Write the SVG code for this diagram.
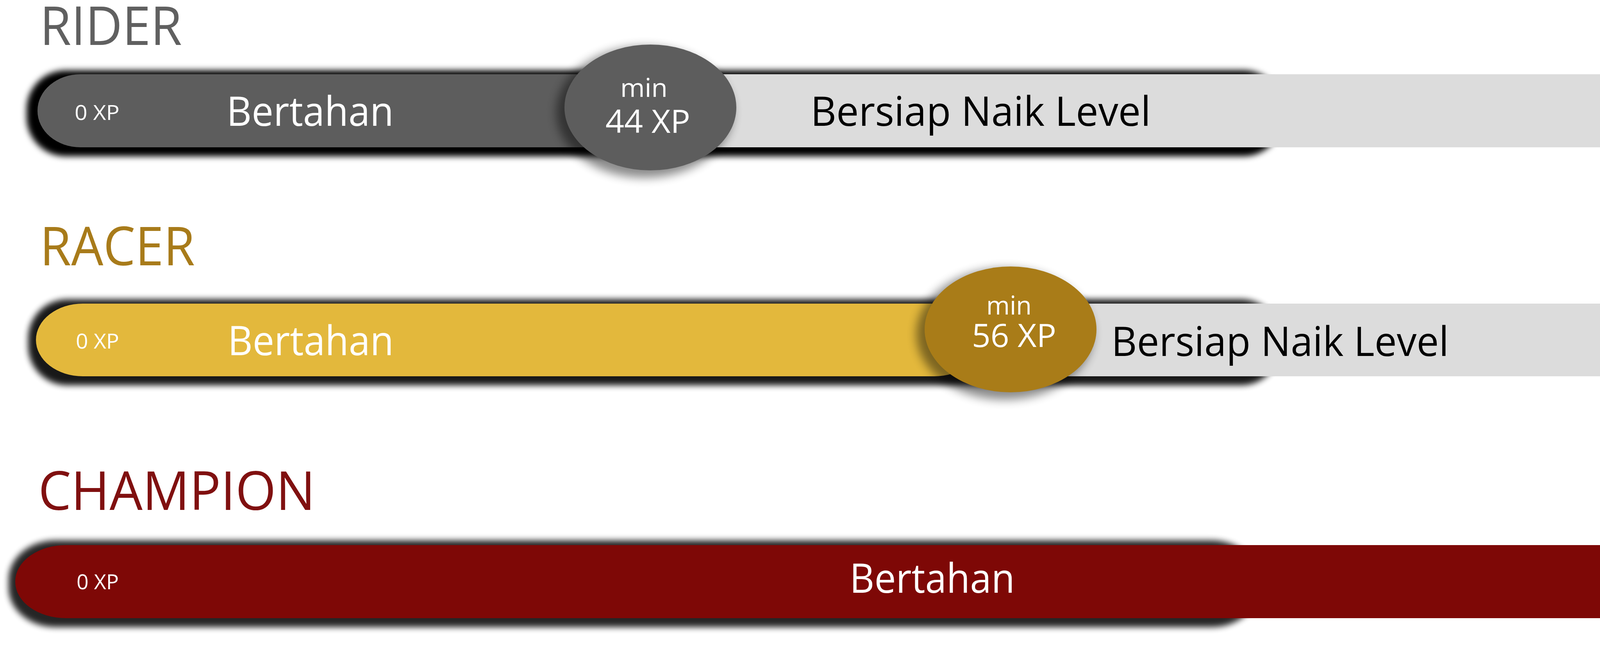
<svg xmlns="http://www.w3.org/2000/svg" width="4770" height="1707" viewBox="0 0 4770 1707">
<style>
text{font-family:"Open Sans","Noto Sans","DejaVu Sans",sans-serif}
.title{font-size:137px}
.w{fill:#ffffff}
.k{fill:#000000}
.xp0{font-size:53px}
.big{font-size:105px}
.min{font-size:65px}
.val{font-size:82px}
.mid{text-anchor:middle}
</style>
<defs>
<filter id="barShadow" x="-5%" y="-50%" width="110%" height="200%">
<feGaussianBlur stdDeviation="8"/>
</filter>
<filter id="circShadow" x="-50%" y="-50%" width="200%" height="200%">
<feGaussianBlur stdDeviation="12"/>
</filter>
</defs>
<rect width="4770" height="1707" fill="#ffffff"/>

<g id="rider">
<text class="title" x="102" y="115" fill="#606060" textLength="364" lengthAdjust="spacingAndGlyphs">RIDER</text>
<rect x="68" y="180" width="3215" height="220" rx="100" ry="100" fill="#000" filter="url(#barShadow)"/>
<rect x="1600" y="190" width="2800" height="187" fill="#dcdcdc"/>
<rect x="96" y="190" width="1520" height="187" rx="110" ry="93" fill="#5d5d5d"/>
<ellipse cx="1650" cy="287" rx="226" ry="168" fill="#000" opacity="0.45" filter="url(#circShadow)"/>
<ellipse cx="1665" cy="275" rx="220" ry="161" fill="#5d5d5d"/>
<ellipse cx="4449" cy="288" rx="226" ry="168" fill="#000" opacity="0.45" filter="url(#circShadow)"/>
<ellipse cx="4464" cy="276" rx="221" ry="162" fill="#946c10"/>
<text class="w xp0" x="191" y="307" textLength="115" lengthAdjust="spacingAndGlyphs">0 XP</text>
<text class="w big" x="580" y="322" textLength="428" lengthAdjust="spacingAndGlyphs">Bertahan</text>
<text class="w min" x="1588" y="248" textLength="121" lengthAdjust="spacingAndGlyphs">min</text>
<text class="w val" x="1550" y="340" textLength="217" lengthAdjust="spacingAndGlyphs">44 XP</text>
<text class="k big" x="2075" y="322" textLength="871" lengthAdjust="spacingAndGlyphs">Bersiap Naik Level</text>
<text class="w val" x="4329" y="311" textLength="265" lengthAdjust="spacingAndGlyphs">130 XP</text>
</g>

<g id="racer">
<text class="title" x="102" y="679" fill="#a87b1a" textLength="397" lengthAdjust="spacingAndGlyphs">RACER</text>
<rect x="72" y="766" width="3205" height="220" rx="100" ry="100" fill="#000" opacity="0.9" filter="url(#barShadow)"/>
<rect x="2500" y="777" width="1900" height="186" fill="#dcdcdc"/>
<rect x="92" y="777" width="2420" height="186" rx="120" ry="93" fill="#e3b83c"/>
<ellipse cx="2572" cy="855" rx="226" ry="168" fill="#000" opacity="0.45" filter="url(#circShadow)"/>
<ellipse cx="2587" cy="843" rx="220" ry="161" fill="#a97c18"/>
<ellipse cx="4454" cy="855" rx="226" ry="168" fill="#000" opacity="0.45" filter="url(#circShadow)"/>
<ellipse cx="4469" cy="843" rx="220" ry="161" fill="#7e0805"/>
<text class="w xp0" x="194" y="892" textLength="111" lengthAdjust="spacingAndGlyphs">0 XP</text>
<text class="w big" x="583" y="909" textLength="425" lengthAdjust="spacingAndGlyphs">Bertahan</text>
<text class="w min" x="2525" y="805" textLength="116" lengthAdjust="spacingAndGlyphs">min</text>
<text class="w val" x="2488" y="888" textLength="216" lengthAdjust="spacingAndGlyphs">56 XP</text>
<text class="k big" x="2845" y="911" textLength="864" lengthAdjust="spacingAndGlyphs">Bersiap Naik Level</text>
<text class="w val" x="4353" y="877" textLength="232" lengthAdjust="spacingAndGlyphs">170XP</text>
</g>

<g id="champion">
<text class="title" x="98" y="1305" fill="#801010" textLength="709" lengthAdjust="spacingAndGlyphs">CHAMPION</text>
<rect x="22" y="1383" width="3200" height="222" rx="120" ry="100" fill="#000" opacity="0.85" filter="url(#barShadow)"/>
<rect x="39" y="1395" width="4361" height="187" rx="130" ry="93" fill="#7e0806"/>
<ellipse cx="4450" cy="1486" rx="226" ry="168" fill="#000" opacity="0.45" filter="url(#circShadow)"/>
<ellipse cx="4465" cy="1474" rx="221" ry="161" fill="#7e0806"/>
<text class="w xp0" x="196" y="1508" textLength="108" lengthAdjust="spacingAndGlyphs">0 XP</text>
<text class="w big" x="2175" y="1517" textLength="423" lengthAdjust="spacingAndGlyphs">Bertahan</text>
<text class="w val" x="4347" y="1509" textLength="253" lengthAdjust="spacingAndGlyphs">170 XP</text>
</g>

<g id="connectors"/>
</svg>
